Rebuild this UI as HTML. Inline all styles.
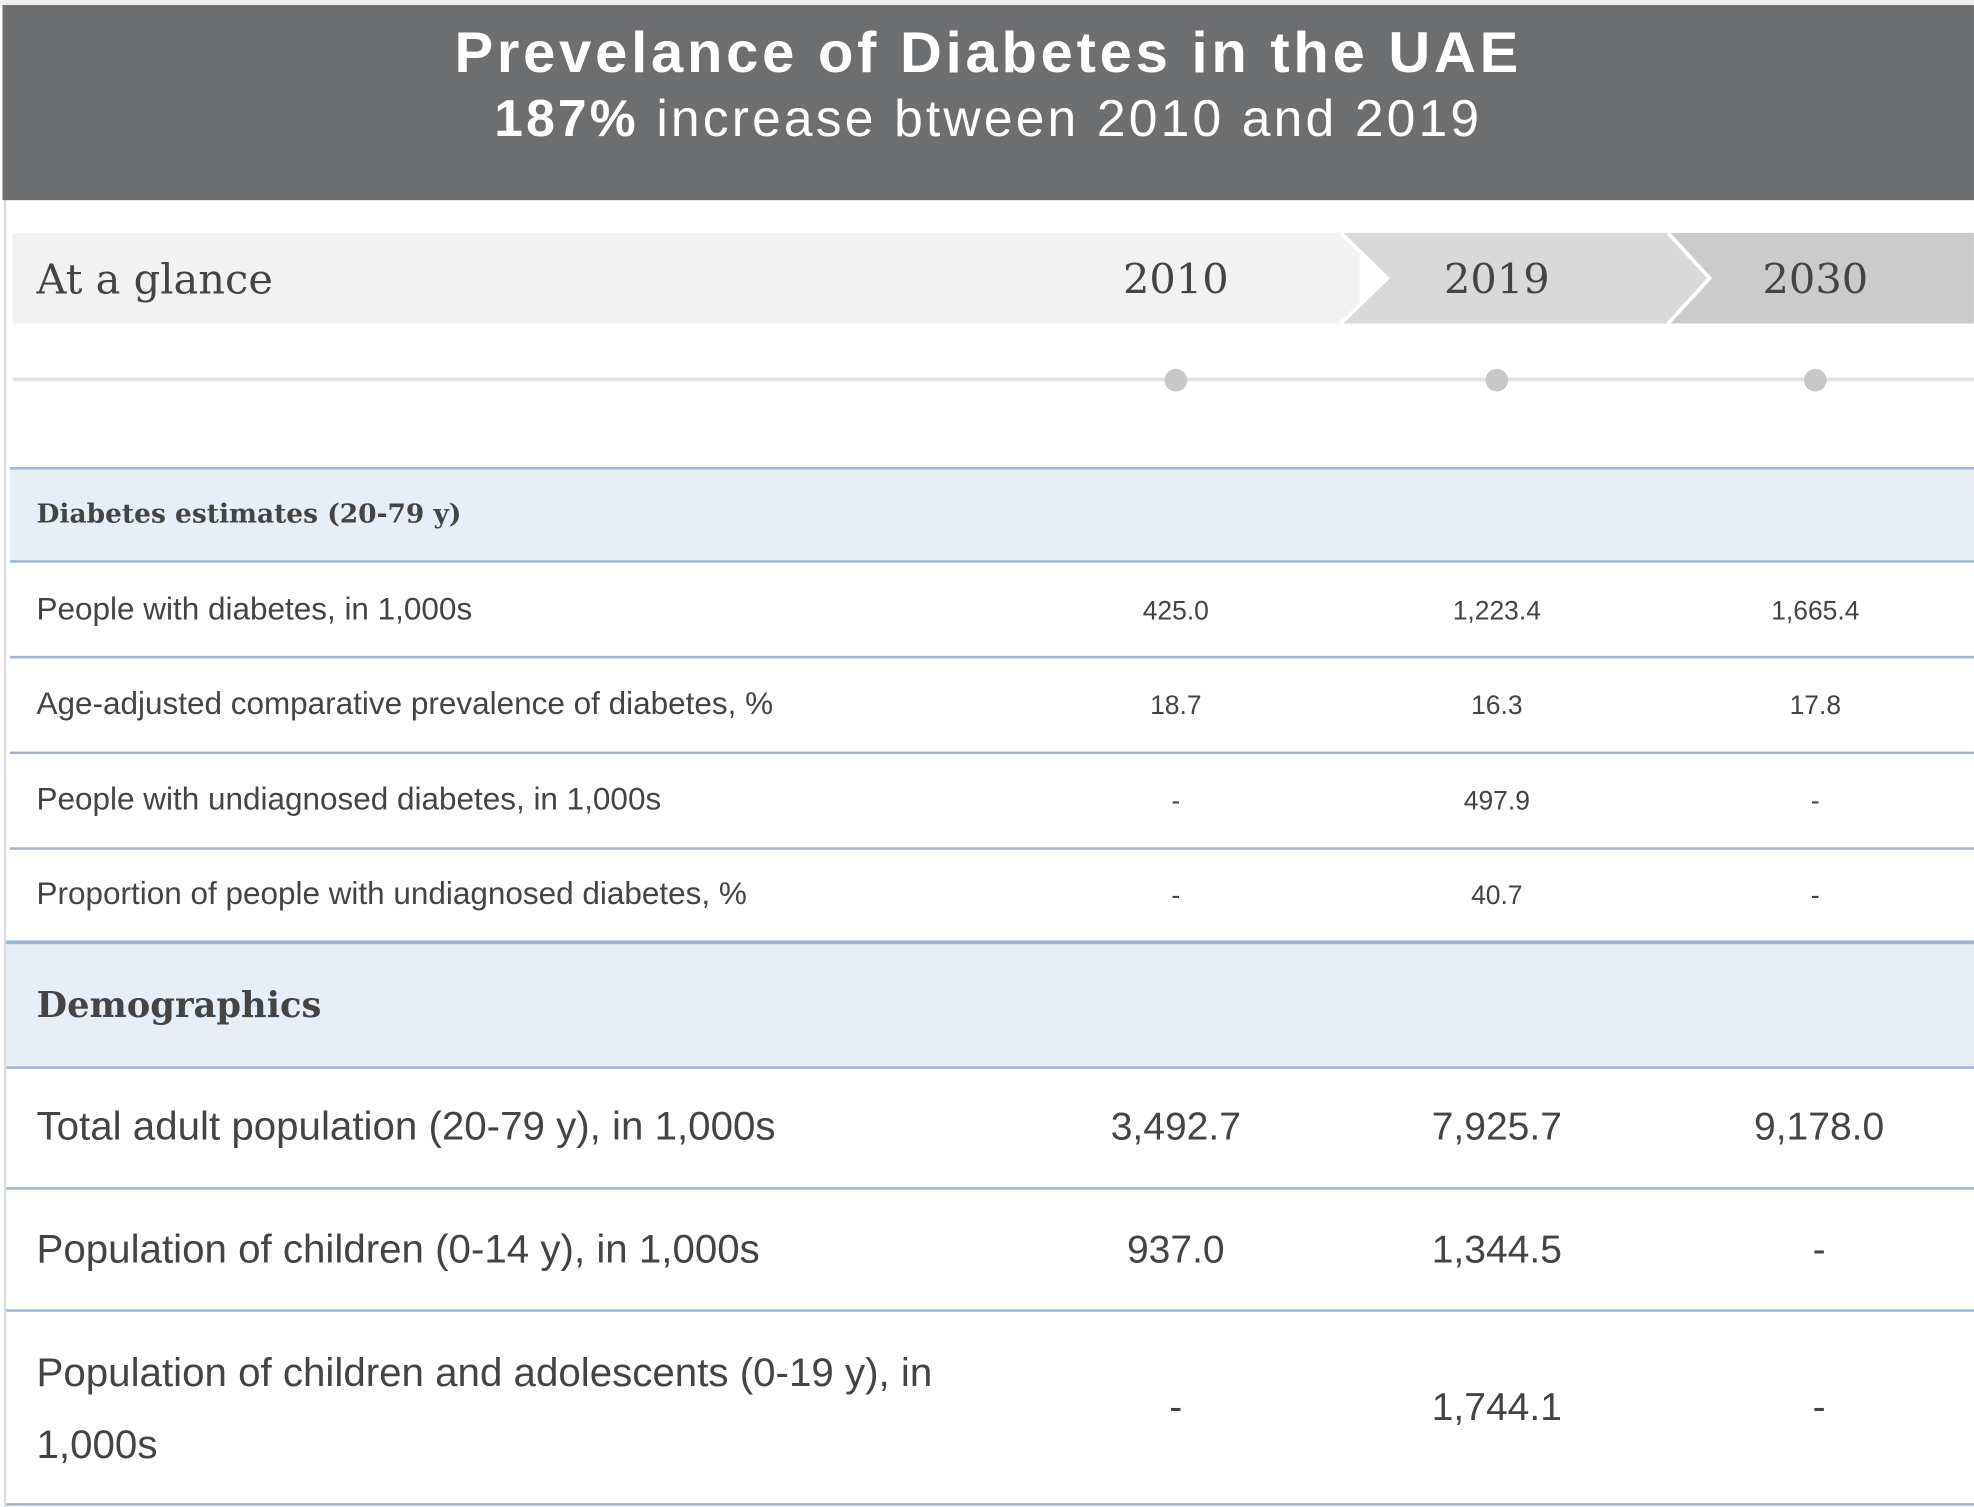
<!DOCTYPE html>
<html><head><meta charset="utf-8"><style>
html,body{margin:0;padding:0;background:#fff;overflow:hidden}
#wrap{position:absolute;left:0;top:0;width:1568px;height:1197px;transform:scale(1.2589);transform-origin:0 0;font-family:"Liberation Sans",sans-serif}
.abs{position:absolute}
.hdr{left:2px;top:4px;width:1566px;height:155px;background:#6d6e70;color:#fff;text-align:center}
.t1{font-weight:bold;font-size:46px;position:absolute;left:0;right:0;top:10px;letter-spacing:3px}
.t2{font-size:41px;position:absolute;left:0;right:0;top:67px;letter-spacing:2.5px}
.serif{font-family:"DejaVu Serif","Liberation Serif",serif}
.line{position:absolute;left:8px;width:1560px;background:#9db5d6}
.lab{position:absolute;left:29px;color:#444}
.val{position:absolute;width:200px;text-align:center;color:#444}
</style></head><body>
<div id="wrap">
<div class="abs" style="left:0;top:0;width:1568px;height:4px;background:#eee"></div>
<div class="abs" style="left:3px;top:159px;width:2px;height:1038px;background:#ddd"></div>
<div class="abs hdr">
<div class="t1">Prevelance of Diabetes in the UAE</div>
<div class="t2"><b>187%</b> increase btween 2010 and 2019</div>
</div>
<svg class="abs" style="left:0;top:180px" width="1568" height="140">
<rect x="10" y="5" width="1070" height="72" fill="#f2f2f2"/>
<polygon points="1065,5 1325,5 1362,41 1325,77 1065,77 1102,41" fill="#d9d9d9"/>
<polygon points="1325,5 1568,5 1568,77 1325,77 1358,41" fill="#cbcbcb"/>
<polyline points="1065,5 1102,41 1065,77" fill="none" stroke="#fff" stroke-width="3"/>
<polyline points="1325,5 1358,41 1325,77" fill="none" stroke="#fff" stroke-width="3"/>
<rect x="10" y="120" width="1558" height="3" fill="#e3e3e3"/>
<circle cx="934" cy="122" r="9" fill="#c8c8c8"/>
<circle cx="1189" cy="122" r="9" fill="#c8c8c8"/>
<circle cx="1442" cy="122" r="9" fill="#c8c8c8"/>
</svg>
<div class="abs serif" style="left:29px;top:202px;font-size:33px;color:#444">At a glance</div>
<div class="val serif" style="left:834px;top:202px;font-size:33px">2010</div>
<div class="val serif" style="left:1089px;top:202px;font-size:33px">2019</div>
<div class="val serif" style="left:1342px;top:202px;font-size:33px">2030</div>

<div class="abs" style="left:8px;top:372px;width:1560px;height:74px;background:#e6eef7"></div>
<div class="line" style="top:371px;height:2px"></div>
<div class="line" style="top:445px;height:2px"></div>
<div class="lab serif" style="top:395px;font-size:21px;font-weight:bold">Diabetes estimates (20-79 y)</div>

<div class="lab" style="top:470px;font-size:25px">People with diabetes, in 1,000s</div>
<div class="val" style="left:834px;top:474px;font-size:21px">425.0</div>
<div class="val" style="left:1089px;top:474px;font-size:21px">1,223.4</div>
<div class="val" style="left:1342px;top:474px;font-size:21px">1,665.4</div>
<div class="line" style="top:521px;height:2px"></div>

<div class="lab" style="top:545px;font-size:25px">Age-adjusted comparative prevalence of diabetes, %</div>
<div class="val" style="left:834px;top:549px;font-size:21px">18.7</div>
<div class="val" style="left:1089px;top:549px;font-size:21px">16.3</div>
<div class="val" style="left:1342px;top:549px;font-size:21px">17.8</div>
<div class="line" style="top:597px;height:2px"></div>

<div class="lab" style="top:621px;font-size:25px">People with undiagnosed diabetes, in 1,000s</div>
<div class="val" style="left:834px;top:625px;font-size:21px">-</div>
<div class="val" style="left:1089px;top:625px;font-size:21px">497.9</div>
<div class="val" style="left:1342px;top:625px;font-size:21px">-</div>
<div class="line" style="top:673px;height:2px"></div>

<div class="lab" style="top:696px;font-size:25px">Proportion of people with undiagnosed diabetes, %</div>
<div class="val" style="left:834px;top:700px;font-size:21px">-</div>
<div class="val" style="left:1089px;top:700px;font-size:21px">40.7</div>
<div class="val" style="left:1342px;top:700px;font-size:21px">-</div>

<div class="abs" style="left:5px;top:748px;width:1563px;height:100px;background:#e6eef7"></div>
<div class="line" style="left:5px;top:747px;height:3px;width:1563px"></div>
<div class="line" style="left:5px;top:847px;height:2px;width:1563px"></div>
<div class="lab serif" style="top:782px;font-size:28px;font-weight:bold">Demographics</div>

<div class="lab" style="top:876px;font-size:32px">Total adult population (20-79 y), in 1,000s</div>
<div class="val" style="left:834px;top:877px;font-size:31px">3,492.7</div>
<div class="val" style="left:1089px;top:877px;font-size:31px">7,925.7</div>
<div class="val" style="left:1345px;top:877px;font-size:31px">9,178.0</div>
<div class="line" style="left:5px;top:943px;height:2px;width:1563px"></div>

<div class="lab" style="top:974px;font-size:32px">Population of children (0-14 y), in 1,000s</div>
<div class="val" style="left:834px;top:975px;font-size:31px">937.0</div>
<div class="val" style="left:1089px;top:975px;font-size:31px">1,344.5</div>
<div class="val" style="left:1345px;top:975px;font-size:31px">-</div>
<div class="line" style="left:5px;top:1040px;height:2px;width:1563px"></div>

<div class="lab" style="top:1062px;font-size:32px;line-height:57px;width:780px">Population of children and adolescents (0-19 y), in 1,000s</div>
<div class="val" style="left:834px;top:1100px;font-size:31px">-</div>
<div class="val" style="left:1089px;top:1100px;font-size:31px">1,744.1</div>
<div class="val" style="left:1345px;top:1100px;font-size:31px">-</div>
<div class="line" style="left:5px;top:1194px;height:2px;width:1563px"></div>
</div>
</body></html>
